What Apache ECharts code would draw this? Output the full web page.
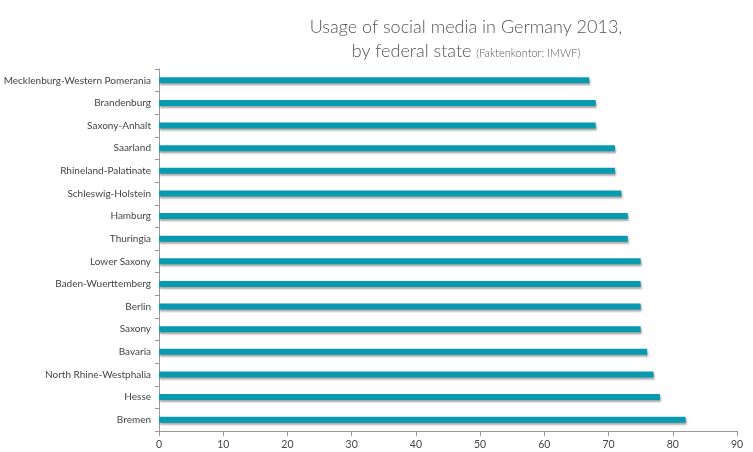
<!DOCTYPE html>
<html><head><meta charset="utf-8">
<script src="https://cdn.jsdelivr.net/npm/echarts@6/dist/echarts.min.js"></script>
<style>html,body{margin:0;padding:0;background:#fff}#c{width:753px;height:452px}</style>
</head><body><div id="c"></div>
<script>
const categories = ["Mecklenburg-Western Pomerania","Brandenburg","Saxony-Anhalt","Saarland","Rhineland-Palatinate","Schleswig-Holstein","Hamburg","Thuringia","Lower Saxony","Baden-Wuerttemberg","Berlin","Saxony","Bavaria","North Rhine-Westphalia","Hesse","Bremen"];
const values = [67,68,68,71,71,72,73,73,75,75,75,75,76,77,78,82];
const xTicks = {min:0, max:90, interval:10};

const chart = echarts.init(document.getElementById('c'));
chart.setOption({
  animation:false,
  title:{
    text:"Usage of social media in Germany 2013,\nby federal state {s|(Faktenkontor; IMWF)}",
    left:461, top:10, textAlign:'center',
    textStyle:{fontFamily:'Lato', fontSize:18, fontWeight:300, color:'#555', lineHeight:24,
      rich:{s:{fontFamily:'Lato', fontSize:11, fontWeight:300, color:'#555', lineHeight:20, padding:[4,0,0,0]}}}
  },
  grid:{left:159, right:16, top:69, bottom:21, containLabel:false, outerBoundsMode:'none'},
  xAxis:{type:'value', min:xTicks.min, max:xTicks.max, interval:xTicks.interval,
    axisLine:{show:true, lineStyle:{color:'#999'}},
    axisTick:{show:true, length:5, lineStyle:{color:'#999'}},
    splitLine:{show:false},
    axisLabel:{fontFamily:'Lato', fontSize:10.5, color:'#444', margin:8}
  },
  yAxis:{type:'category', data:categories, inverse:true,
    axisLine:{show:true, lineStyle:{color:'#999'}},
    axisTick:{show:true, length:4, lineStyle:{color:'#999'}},
    axisLabel:{fontFamily:'Lato', fontSize:10, color:'#444', margin:8}
  },
  series:[{type:'bar', data:values, barWidth:6,
    itemStyle:{color:'#089aae', shadowColor:'rgba(0,0,0,0.35)', shadowBlur:2, shadowOffsetX:1, shadowOffsetY:2}
  }]
});
</script></body></html>
